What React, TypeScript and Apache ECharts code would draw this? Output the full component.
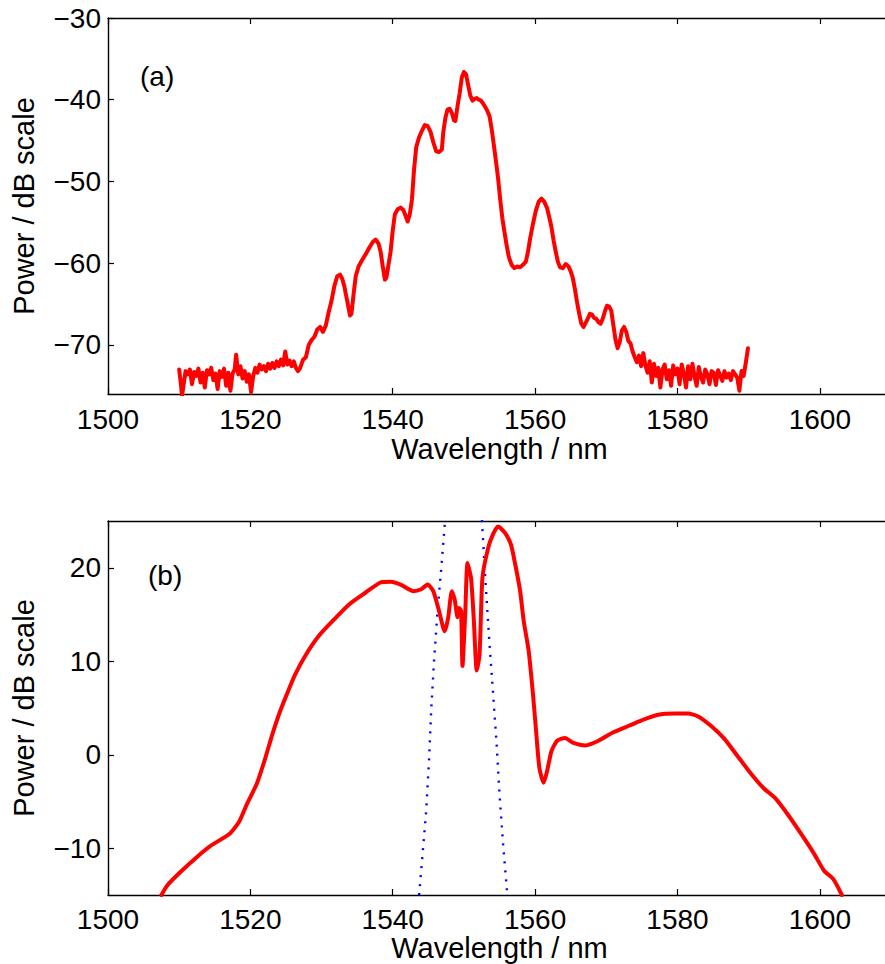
import React, { useEffect, useRef } from "react";
import * as echarts from "echarts";

// ---- Data ----
const X_TICKS = [1500, 1520, 1540, 1560, 1580, 1600];
const Y_TICKS_A = [-70, -60, -50, -40, -30];
const Y_TICKS_B = [-10, 0, 10, 20];

// (a) measured power spectrum [wavelength nm, dB]
const SPECTRUM_A: number[][] = [
  [1510.0, -73.0], [1510.2, -74.5], [1510.4, -76.2], [1510.6, -75.0], [1510.9, -73.2],
  [1511.2, -73.6], [1511.5, -73.0], [1511.8, -74.8], [1512.1, -73.3], [1512.4, -73.8],
  [1512.7, -72.9], [1513.0, -74.6], [1513.3, -73.4], [1513.6, -75.2], [1513.9, -73.1],
  [1514.2, -73.6], [1514.5, -72.8], [1514.8, -74.3], [1515.1, -73.5], [1515.4, -75.4],
  [1515.7, -73.2], [1516.0, -73.9], [1516.3, -72.9], [1516.6, -75.0], [1516.9, -73.4],
  [1517.2, -75.6], [1517.5, -73.5], [1517.8, -73.0], [1518.0, -71.2], [1518.3, -73.6],
  [1518.6, -72.6], [1518.9, -74.1], [1519.2, -73.2], [1519.5, -74.5], [1519.8, -73.6],
  [1520.1, -75.8], [1520.4, -73.8], [1520.7, -72.8], [1521.0, -73.4], [1521.3, -72.4],
  [1521.6, -73.0], [1521.9, -72.6], [1522.2, -73.2], [1522.5, -72.3], [1522.8, -72.9],
  [1523.1, -72.2], [1523.4, -72.8], [1523.7, -72.0], [1524.0, -72.6], [1524.3, -71.8],
  [1524.6, -72.5], [1524.9, -70.8], [1525.2, -72.4], [1525.5, -71.9], [1525.8, -72.6],
  [1526.1, -72.0], [1526.4, -72.8], [1526.7, -73.2], [1527.0, -72.8], [1527.4, -71.8],
  [1527.8, -71.5], [1528.2, -70.0], [1528.6, -69.4], [1529.0, -69.0], [1529.4, -68.1],
  [1529.8, -67.8], [1530.2, -68.4], [1530.6, -67.6], [1531.0, -66.0], [1531.4, -64.6],
  [1531.8, -62.8], [1532.2, -61.6], [1532.6, -61.4], [1532.9, -61.9], [1533.2, -62.8],
  [1533.6, -64.6], [1534.0, -66.4], [1534.2, -66.2], [1534.5, -63.8], [1534.8, -61.6],
  [1535.2, -60.4], [1535.7, -59.6], [1536.2, -58.9], [1536.7, -58.1], [1537.2, -57.4],
  [1537.6, -57.1], [1538.0, -57.6], [1538.3, -58.6], [1538.6, -60.4], [1538.9, -62.0],
  [1539.1, -61.8], [1539.4, -60.2], [1539.7, -58.6], [1540.0, -56.0], [1540.3, -54.0],
  [1540.7, -53.4], [1541.1, -53.2], [1541.5, -53.5], [1541.8, -54.2], [1542.1, -54.9],
  [1542.4, -54.0], [1542.7, -52.2], [1543.0, -48.5], [1543.3, -45.8], [1543.7, -44.6],
  [1544.1, -43.8], [1544.5, -43.1], [1544.9, -43.2], [1545.3, -43.9], [1545.7, -45.2],
  [1546.1, -46.3], [1546.5, -46.4], [1546.9, -46.1], [1547.1, -44.0], [1547.4, -42.2],
  [1547.7, -41.2], [1548.0, -41.1], [1548.3, -41.6], [1548.6, -42.5], [1548.8, -42.6],
  [1549.1, -40.8], [1549.4, -39.2], [1549.7, -37.3], [1550.0, -36.6], [1550.3, -36.9],
  [1550.6, -38.2], [1550.9, -39.5], [1551.2, -40.1], [1551.5, -39.9], [1551.8, -39.8],
  [1552.1, -40.0], [1552.4, -40.1], [1552.8, -40.6], [1553.2, -41.2], [1553.6, -42.0],
  [1553.9, -43.6], [1554.2, -45.5], [1554.5, -47.5], [1554.8, -49.6], [1555.1, -52.2],
  [1555.4, -54.5], [1555.7, -56.2], [1556.0, -57.8], [1556.3, -59.2], [1556.7, -60.2],
  [1557.1, -60.6], [1557.5, -60.4], [1557.9, -60.5], [1558.3, -60.2], [1558.7, -59.8],
  [1559.0, -58.6], [1559.3, -57.0], [1559.7, -55.2], [1560.1, -53.6], [1560.5, -52.5],
  [1560.9, -52.1], [1561.3, -52.5], [1561.7, -53.3], [1562.0, -54.4], [1562.3, -55.6],
  [1562.6, -57.2], [1562.9, -58.6], [1563.2, -59.8], [1563.5, -60.5], [1563.9, -60.6],
  [1564.3, -60.1], [1564.7, -60.4], [1565.0, -61.0], [1565.3, -61.8], [1565.6, -63.2],
  [1565.9, -64.8], [1566.2, -66.2], [1566.5, -67.4], [1566.8, -67.8], [1567.1, -67.3],
  [1567.4, -66.8], [1567.7, -66.2], [1568.0, -66.3], [1568.3, -66.7], [1568.6, -66.8],
  [1568.9, -67.2], [1569.2, -67.4], [1569.5, -66.8], [1569.8, -65.9], [1570.1, -65.2],
  [1570.4, -65.3], [1570.7, -65.8], [1571.0, -67.6], [1571.3, -69.4], [1571.6, -70.4],
  [1571.9, -69.6], [1572.2, -68.2], [1572.5, -67.8], [1572.8, -68.4], [1573.1, -69.5],
  [1573.4, -69.8], [1573.7, -70.8], [1574.0, -71.5], [1574.3, -72.1], [1574.6, -71.3],
  [1574.9, -72.6], [1575.2, -71.0], [1575.5, -72.5], [1575.8, -73.4], [1576.1, -72.0],
  [1576.4, -74.6], [1576.7, -72.3], [1577.0, -73.8], [1577.3, -72.8], [1577.6, -75.2],
  [1577.9, -73.0], [1578.2, -72.4], [1578.5, -74.2], [1578.8, -73.1], [1579.1, -75.0],
  [1579.4, -72.5], [1579.7, -73.6], [1580.0, -72.9], [1580.3, -74.8], [1580.6, -72.4],
  [1580.9, -73.5], [1581.2, -75.2], [1581.5, -72.6], [1581.8, -74.2], [1582.1, -72.3],
  [1582.4, -73.8], [1582.7, -75.0], [1583.0, -72.7], [1583.3, -73.9], [1583.6, -74.6],
  [1583.9, -73.0], [1584.2, -73.6], [1584.5, -74.8], [1584.8, -73.2], [1585.1, -73.4],
  [1585.4, -74.9], [1585.7, -73.1], [1586.0, -73.7], [1586.3, -74.4], [1586.6, -73.2],
  [1586.9, -74.0], [1587.2, -73.5], [1587.5, -74.3], [1587.8, -73.2], [1588.1, -73.6],
  [1588.4, -74.0], [1588.7, -75.6], [1589.0, -73.2], [1589.3, -73.8], [1589.6, -72.2],
  [1589.9, -70.4],
];

// (b) output spectrum [wavelength nm, dB]
const SPECTRUM_B: number[][] = [
  [1507.5, -15.0], [1508.3, -14.0], [1510.1, -12.6], [1512.7, -10.8], [1514.5, -9.7],
  [1517.0, -8.5], [1518.4, -7.2], [1519.5, -5.3], [1520.9, -3.1], [1522.0, -0.6],
  [1523.1, 2.2], [1524.2, 4.7], [1525.3, 6.8], [1526.3, 8.6], [1527.8, 10.7],
  [1529.6, 12.7], [1531.8, 14.5], [1533.9, 16.1], [1536.1, 17.3], [1538.2, 18.4],
  [1539.7, 18.5], [1541.1, 18.2], [1542.9, 17.5], [1544.0, 17.7], [1544.9, 18.2],
  [1545.7, 17.5], [1546.5, 15.4], [1547.3, 13.2], [1547.8, 14.7], [1548.3, 17.5],
  [1548.7, 16.6], [1549.1, 14.7], [1549.3, 15.7], [1549.6, 15.4], [1549.8, 9.5],
  [1550.2, 15.4], [1550.5, 20.5], [1551.0, 18.9], [1551.4, 14.3], [1551.8, 9.0],
  [1552.2, 10.7], [1552.6, 18.9], [1553.4, 22.1], [1554.1, 23.6], [1554.8, 24.4],
  [1555.8, 23.7], [1556.6, 22.5], [1557.2, 20.4], [1557.9, 17.5], [1558.4, 14.3],
  [1559.1, 11.1], [1559.7, 6.5], [1560.1, 2.9], [1560.6, -1.4], [1561.2, -3.0],
  [1561.7, -1.7], [1562.3, 0.4], [1563.1, 1.5], [1564.2, 1.8], [1565.3, 1.3],
  [1567.1, 1.0], [1568.9, 1.5], [1571.0, 2.4], [1573.2, 3.1], [1575.4, 3.8],
  [1577.5, 4.3], [1579.7, 4.4], [1581.5, 4.4], [1582.9, 4.1], [1584.7, 3.1],
  [1586.6, 1.7], [1588.4, -0.1], [1590.2, -1.9], [1592.0, -3.5], [1593.8, -4.7],
  [1595.6, -6.5], [1597.4, -8.5], [1599.2, -10.6], [1600.6, -12.4], [1601.9, -13.3],
  [1603.1, -15.0],
];

// (b) filter transmission (dotted), clipped at the top of the axes
const FILTER_B: number[][] = [
  [1543.7, -15.0], [1544.2, -10.6], [1544.7, -6.0], [1545.1, -0.6], [1545.4, 4.7],
  [1545.8, 10.0], [1546.3, 15.4], [1546.9, 20.7], [1547.4, 25.5], [1550.0, 40.0],
  [1552.5, 25.5], [1553.0, 18.9], [1553.6, 11.8], [1554.1, 6.5], [1554.6, 1.1],
  [1555.0, -4.2], [1555.5, -9.5], [1556.1, -15.0],
];

const FONT = "'Liberation Sans', Arial, Helvetica, sans-serif";
const fmtMinus = (v: number) => String(v).replace("-", "\u2212");

export default function App() {
  const ref = useRef<HTMLDivElement>(null);

  useEffect(() => {
    if (!ref.current) return;
    const chart = echarts.init(ref.current, null, { renderer: "svg" });

    const axisLine = { show: true, onZero: false, lineStyle: { color: "#000", width: 1.4 } };
    const tick = (vals: number[]) => ({
      show: true,
      inside: true,
      length: 6,
      customValues: vals,
      lineStyle: { color: "#000", width: 1.2 },
    });
    const label = (vals: number[], margin: number) => ({
      show: true,
      customValues: vals,
      margin,
      color: "#000",
      fontSize: 28,
      fontFamily: FONT,
      formatter: (v: number) => fmtMinus(v),
    });
    const xMain = (grid: number, gap: number, margin: number) => ({
      type: "value",
      gridIndex: grid,
      position: "bottom",
      min: 1500,
      max: 1610,
      axisLine,
      axisTick: tick(X_TICKS),
      axisLabel: label(X_TICKS, margin),
      splitLine: { show: false },
      name: "Wavelength / nm",
      nameLocation: "middle",
      nameGap: gap,
      nameTextStyle: { color: "#000", fontSize: 29, fontFamily: FONT },
    });
    const xTop = (grid: number) => ({
      type: "value",
      gridIndex: grid,
      position: "top",
      min: 1500,
      max: 1610,
      axisLine,
      axisTick: tick(X_TICKS),
      axisLabel: { show: false },
      splitLine: { show: false },
    });
    const yMain = (grid: number, min: number, max: number, vals: number[]) => ({
      type: "value",
      gridIndex: grid,
      position: "left",
      min,
      max,
      axisLine,
      axisTick: tick(vals),
      axisLabel: label(vals, 7),
      splitLine: { show: false },
      name: "Power / dB scale",
      nameLocation: "middle",
      nameGap: 70,
      nameTextStyle: { color: "#000", fontSize: 29, fontFamily: FONT },
    });
    const yRight = (grid: number, min: number, max: number, vals: number[]) => ({
      type: "value",
      gridIndex: grid,
      position: "right",
      min,
      max,
      axisLine,
      axisTick: tick(vals),
      axisLabel: { show: false },
      splitLine: { show: false },
    });

    const red = { color: "#ff0000", width: 4, join: "round", cap: "round" };

    chart.setOption({
      animation: false,
      backgroundColor: "#fff",
      grid: [
        { left: 108, top: 18, width: 783, height: 376 },
        { left: 108, top: 521, width: 783, height: 374 },
      ],
      xAxis: [xMain(0, 40, 11), xTop(0), xMain(1, 37, 10), xTop(1)],
      yAxis: [
        yMain(0, -76, -30, Y_TICKS_A),
        yRight(0, -76, -30, Y_TICKS_A),
        yMain(1, -15, 25, Y_TICKS_B),
        yRight(1, -15, 25, Y_TICKS_B),
      ],
      series: [
        {
          type: "line",
          xAxisIndex: 0,
          yAxisIndex: 0,
          data: SPECTRUM_A,
          showSymbol: false,
          lineStyle: red,
          clip: true,
        },
        {
          type: "line",
          xAxisIndex: 2,
          yAxisIndex: 2,
          data: FILTER_B,
          showSymbol: false,
          lineStyle: { color: "#0000ff", width: 2.4, type: [2, 7] },
          clip: true,
          z: 1,
        },
        {
          type: "line",
          xAxisIndex: 2,
          yAxisIndex: 2,
          data: SPECTRUM_B,
          showSymbol: false,
          smooth: 0.2,
          lineStyle: red,
          clip: true,
          z: 2,
        },
      ],
      graphic: [
        {
          type: "text",
          left: 140,
          top: 62,
          style: { text: "(a)", fontSize: 28, fontFamily: FONT, fill: "#000" },
        },
        {
          type: "text",
          left: 148,
          top: 561,
          style: { text: "(b)", fontSize: 28, fontFamily: FONT, fill: "#000" },
        },
      ],
    });

    return () => chart.dispose();
  }, []);

  return (
    <div
      style={{
        position: "fixed",
        left: 0,
        top: 0,
        width: 885,
        height: 964,
        overflow: "hidden",
        background: "#fff",
      }}
    >
      <div ref={ref} style={{ width: 900, height: 964 }} />
    </div>
  );
}
